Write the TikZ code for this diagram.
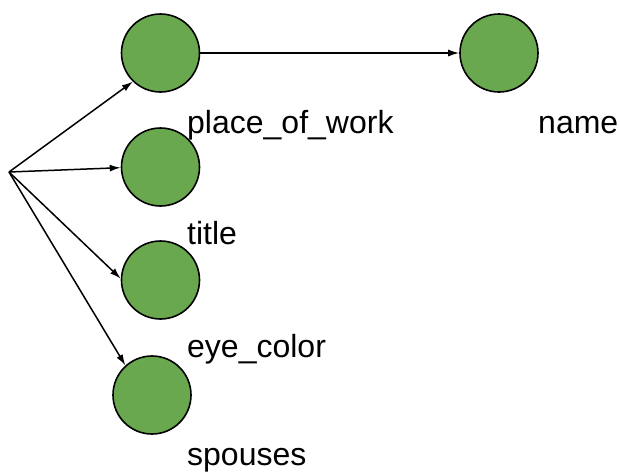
\documentclass[tikz,border=0pt]{standalone}
\usepackage{fontspec}
\setmainfont{Liberation Sans}
\usetikzlibrary{arrows.meta}
\definecolor{leafgreen}{HTML}{6AA84F}
\begin{document}
\begin{tikzpicture}[x=1pt,y=-1pt,
  attr/.style={circle,draw=black,line width=1.6pt,fill=leafgreen,
    minimum size=78pt,inner sep=0pt},
  lbl/.style={anchor=base west,inner sep=0pt,font=\fontsize{32}{37}\selectfont},
  link/.style={line width=1.5pt,-{Latex[length=11pt,width=7pt]}}]
  \useasboundingbox (0,0) rectangle (620,474);

  % root of the fan of attributes
  \coordinate (root) at (9,172);

  % attribute circles
  \node[attr] (pow)  at (160.5,53) {};
  \node[attr] (name) at (499,53) {};
  \node[attr] (tit)  at (160.5,167) {};
  \node[attr] (eye)  at (160.5,280) {};
  \node[attr] (sp)   at (152,395) {};

  % labels
  \node[lbl] (lpow)  at (187,133) {place\_of\_work};
  \node[lbl] (lname) at (538,133) {name};
  \node[lbl] (ltit)  at (187,244) {title};
  \node[lbl] (leye)  at (187,357) {eye\_color};
  \node[lbl] (lsp)   at (187,465) {spouses};

  % connectors
  \draw[link] (root) -- (pow.226);
  \draw[link] (root) -- (tit.181);
  \draw[link] (root) -- (eye.178);
  \draw[link] (root) -- (sp.132);
  \draw[link] (pow.east) -- (name.west);
\end{tikzpicture}
\end{document}
